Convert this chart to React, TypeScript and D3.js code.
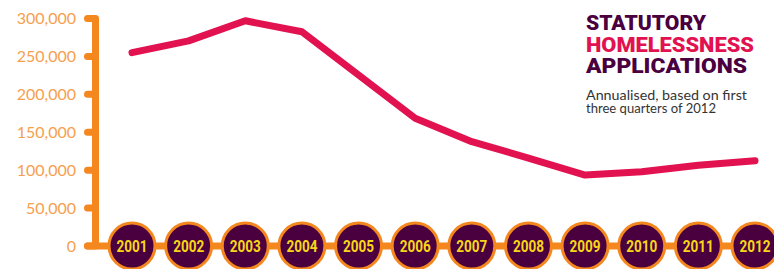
import { useEffect, useRef } from 'react'
import * as d3 from 'd3'

const years = ['2001', '2002', '2003', '2004', '2005', '2006', '2007', '2008', '2009', '2010', '2011', '2012']
const applications = [255000, 270500, 297000, 282500, 225500, 168500, 137500, 116000, 93500, 98000, 106500, 112500]
const yTicks = [0, 50000, 100000, 150000, 200000, 250000, 300000]
const titleLines = ['STATUTORY', 'HOMELESSNESS', 'APPLICATIONS']
const subtitleLines = ['Annualised, based on first', 'three quarters of 2012']

const ORANGE = '#f5871f'
const LABEL_ORANGE = '#f6a04e'
const CRIMSON = '#e2114f'
const PURPLE = '#4a003f'
const YELLOW = '#f7d61a'

export default function App() {
  const ref = useRef<SVGSVGElement>(null)

  useEffect(() => {
    const width = 774
    const svg = d3.select(ref.current)
    svg.selectAll('*').remove()

    const x = d3.scalePoint().domain(years).range([132, 755])
    const y = d3.scaleLinear().domain([0, 300000]).range([246, 18.5])
    const axisX = 95.5

    // baseline + vertical axis
    svg.append('line')
      .attr('x1', axisX - 8).attr('x2', width - 4)
      .attr('y1', y(0)).attr('y2', y(0))
      .attr('stroke', ORANGE).attr('stroke-width', 7).attr('stroke-linecap', 'round')
    svg.append('line')
      .attr('x1', axisX).attr('x2', axisX)
      .attr('y1', y(300000)).attr('y2', y(0))
      .attr('stroke', ORANGE).attr('stroke-width', 7)

    svg.selectAll('line.tick')
      .data(yTicks)
      .enter()
      .append('line')
      .attr('class', 'tick')
      .attr('x1', axisX - 8).attr('x2', axisX)
      .attr('y1', (d) => y(d)).attr('y2', (d) => y(d))
      .attr('stroke', ORANGE).attr('stroke-width', 7).attr('stroke-linecap', 'round')

    svg.selectAll('text.ylab')
      .data(yTicks)
      .enter()
      .append('text')
      .attr('class', 'ylab')
      .attr('x', 76)
      .attr('y', (d) => y(d) + 5.5)
      .attr('text-anchor', 'end')
      .style('font-family', 'Lato, sans-serif')
      .style('font-size', '16px')
      .style('fill', LABEL_ORANGE)
      .text((d) => d3.format(',')(d))

    // year bubbles
    const g = svg.selectAll('g.year')
      .data(years)
      .enter()
      .append('g')
      .attr('class', 'year')
      .attr('transform', (d) => `translate(${x(d)},${y(0)})`)
    g.append('circle')
      .attr('r', 23)
      .attr('fill', PURPLE)
      .attr('stroke', ORANGE)
      .attr('stroke-width', 3)
    g.append('text')
      .attr('y', 5.5)
      .attr('text-anchor', 'middle')
      .attr('textLength', 31)
      .attr('lengthAdjust', 'spacingAndGlyphs')
      .style('font-family', 'Roboto, sans-serif')
      .style('font-weight', 700)
      .style('font-size', '16px')
      .style('fill', YELLOW)
      .text((d) => d)

    // line
    const line = d3.line<number>()
      .x((_, i) => x(years[i]) as number)
      .y((d) => y(d))
    svg.append('path')
      .attr('d', line(applications))
      .attr('fill', 'none')
      .attr('stroke', CRIMSON)
      .attr('stroke-width', 7)
      .attr('stroke-linecap', 'round')
      .attr('stroke-linejoin', 'round')

    // title
    const titleColors = [PURPLE, CRIMSON, PURPLE]
    const titleWidths = [120, 168, 161]
    svg.selectAll('text.title')
      .data(titleLines)
      .enter()
      .append('text')
      .attr('class', 'title')
      .attr('x', 586)
      .attr('y', (_, i) => 30 + i * 21.5)
      .attr('textLength', (_, i) => titleWidths[i])
      .attr('lengthAdjust', 'spacingAndGlyphs')
      .style('font-family', 'Roboto, sans-serif')
      .style('font-weight', 900)
      .style('font-size', '20.5px')
      .style('fill', (_, i) => titleColors[i])
      .text((d) => d)

    const subWidths = [161, 130]
    svg.selectAll('text.sub')
      .data(subtitleLines)
      .enter()
      .append('text')
      .attr('class', 'sub')
      .attr('x', 586)
      .attr('y', (_, i) => 100 + i * 12.5)
      .attr('textLength', (_, i) => subWidths[i])
      .attr('lengthAdjust', 'spacingAndGlyphs')
      .style('font-family', 'Lato, sans-serif')
      .style('font-size', '13px')
      .style('fill', '#333')
      .text((d) => d)
  }, [])

  return (
    <svg
      ref={ref}
      width={774}
      height={269}
      style={{ position: 'absolute', left: 0, top: 0, background: '#fff' }}
    />
  )
}
